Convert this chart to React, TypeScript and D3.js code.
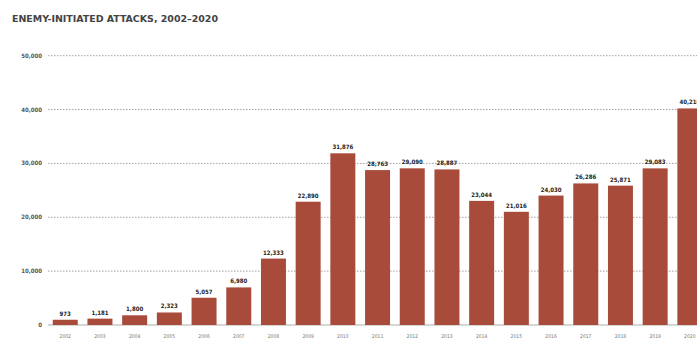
import React from "react";
import * as d3 from "d3";

const years = ["2002","2003","2004","2005","2006","2007","2008","2009","2010","2011","2012","2013","2014","2015","2016","2017","2018","2019","2020"];
const attacks = [973, 1181, 1800, 2323, 5057, 6980, 12333, 22890, 31876, 28763, 29090, 28887, 23044, 21016, 24030, 26286, 25871, 29083, 40210];
const yTicks = [0, 10000, 20000, 30000, 40000, 50000];
const title = "ENEMY-INITIATED ATTACKS, 2002–2020";

export default function App() {
  const W = 697, H = 341;
  const x = d3.scaleBand<string>().domain(years).range([47.9, 47.9 + 19 * 34.7]).paddingInner(0.28).paddingOuter(0.14);
  const y = d3.scaleLinear().domain([0, 50000]).range([325, 55.7]);
  const fmt = d3.format(",");
  return (
    <svg width={W} height={H} style={{ position: "absolute", left: 0, top: 0, background: "#fff" }} fontFamily="'Liberation Sans Narrow', 'DejaVu Sans Condensed', Arial, sans-serif">
      <text x={12} y={22} fontSize={8} fontWeight="bold" fill="#444" textLength={206} lengthAdjust="spacingAndGlyphs">{title}</text>
      {yTicks.map(t => (
        <g key={t}>
          {t > 0 && <line x1={48} x2={W} y1={y(t)} y2={y(t)} stroke="#8a8a8a" strokeWidth={0.8} strokeDasharray="1.5,1.5" />}
          <text x={42} y={y(t) + 2} fontSize={6} fontWeight="bold" fill="#555" textAnchor="end">{fmt(t)}</text>
        </g>
      ))}
      <line x1={48} x2={W} y1={y(0)} y2={y(0)} stroke="#999" strokeWidth={0.8} />
      {years.map((yr, i) => (
        <g key={yr}>
          <rect x={x(yr)} y={y(attacks[i])} width={x.bandwidth()} height={y(0) - y(attacks[i])} fill="#a84b3b" />
          <text x={(x(yr) as number) + x.bandwidth() / 2} y={y(attacks[i]) - 4} fontSize={6} fontWeight="bold" fill="#222" textAnchor="middle">{fmt(attacks[i])}</text>
          <text x={(x(yr) as number) + x.bandwidth() / 2} y={338} fontSize={5} fill="#777" textAnchor="middle">{yr}</text>
        </g>
      ))}
    </svg>
  );
}
